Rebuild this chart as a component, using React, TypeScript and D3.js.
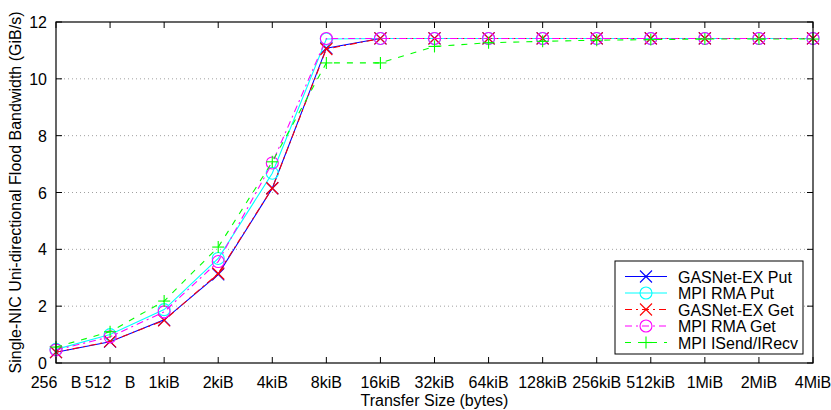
import React from 'react';
import * as d3 from 'd3';

const sizes = ['256   B', '512   B', '1kiB', '2kiB', '4kiB', '8kiB', '16kiB', '32kiB', '64kiB', '128kiB', '256kiB', '512kiB', '1MiB', '2MiB', '4MiB'];
const gasnetPut = [0.38, 0.75, 1.52, 3.12, 6.15, 11.08, 11.42, 11.42, 11.42, 11.42, 11.42, 11.42, 11.42, 11.42, 11.42];
const mpiRmaPut = [0.48, 1.0, 1.88, 3.68, 6.68, 11.4, 11.42, 11.42, 11.42, 11.42, 11.42, 11.42, 11.42, 11.42, 11.42];
const gasnetGet = [0.38, 0.76, 1.5, 3.15, 6.15, 11.05, 11.42, 11.42, 11.42, 11.42, 11.42, 11.42, 11.42, 11.42, 11.42];
const mpiRmaGet = [0.46, 0.92, 1.8, 3.57, 7.04, 11.42, 11.42, 11.42, 11.42, 11.42, 11.42, 11.42, 11.42, 11.42, 11.42];
const mpiIsend = [0.56, 1.1, 2.18, 4.08, 7.08, 10.56, 10.56, 11.14, 11.27, 11.32, 11.36, 11.38, 11.4, 11.4, 11.4];
const yTicks = [0, 2, 4, 6, 8, 10, 12];

const series = [
  { name: 'GASNet-EX Put', values: gasnetPut, color: '#0000ff', dash: '', marker: 'x' },
  { name: 'MPI RMA Put', values: mpiRmaPut, color: '#00ffff', dash: '', marker: 'o' },
  { name: 'GASNet-EX Get', values: gasnetGet, color: '#ff0000', dash: '7,4,2,4', marker: 'x' },
  { name: 'MPI RMA Get', values: mpiRmaGet, color: '#ff00ff', dash: '7,4,2,4', marker: 'o' },
  { name: 'MPI ISend/IRecv', values: mpiIsend, color: '#00ff00', dash: '6,7', marker: '+' },
];

const W = 831, H = 410;
const left = 56, right = 813, top = 22, bottom = 363;
const font = 'Liberation Sans, Arial, Helvetica, sans-serif';
const fs = 16;

function Marker({ type, x, y, color }: { type: string; x: number; y: number; color: string }) {
  const s = 6;
  if (type === 'o') return <circle cx={x} cy={y} r={6} fill="none" stroke={color} strokeWidth={1.1} />;
  if (type === '+') return (
    <g stroke={color} strokeWidth={1.1}>
      <line x1={x - s} y1={y} x2={x + s} y2={y} />
      <line x1={x} y1={y - s} x2={x} y2={y + s} />
    </g>
  );
  return (
    <g stroke={color} strokeWidth={1.1}>
      <line x1={x - s} y1={y - s} x2={x + s} y2={y + s} />
      <line x1={x - s} y1={y + s} x2={x + s} y2={y - s} />
    </g>
  );
}

export default function App() {
  const x = d3.scalePoint<string>().domain(sizes).range([left, right]);
  const y = d3.scaleLinear().domain([0, 12]).range([bottom, top]);
  const line = d3.line<number>().x((d, i) => x(sizes[i]) as number).y(d => y(d));

  const legX = 615, legY = 261, legW = 188, legH = 93;

  return (
    <svg width={W} height={H} style={{ position: 'absolute', left: 0, top: 0 }} fontFamily={font}>
      <rect width={W} height={H} fill="#fff" />
      {yTicks.filter(t => t > 0 && t < 12).map(t => (
        <line key={'g' + t} x1={left} x2={right} y1={y(t)} y2={y(t)} stroke="#a0a0a0" strokeWidth={1} strokeDasharray="1,3" />
      ))}
      {yTicks.map(t => (
        <g key={'y' + t}>
          <line x1={left} x2={left + 6} y1={y(t)} y2={y(t)} stroke="#000" />
          <line x1={right} x2={right - 6} y1={y(t)} y2={y(t)} stroke="#000" />
          <text x={left - 9} y={y(t) + 6} textAnchor="end" fontSize={fs}>{t}</text>
        </g>
      ))}
      {sizes.map(s => (
        <g key={'x' + s}>
          <line x1={x(s)} x2={x(s)} y1={bottom} y2={bottom - 6} stroke="#000" />
          <line x1={x(s)} x2={x(s)} y1={top} y2={top + 6} stroke="#000" />
          <text x={x(s)} y={bottom + 25} textAnchor="middle" fontSize={fs} style={{ whiteSpace: 'pre' }}>{s}</text>
        </g>
      ))}
      {series.map(se => (
        <g key={se.name}>
          <path d={line(se.values) || ''} fill="none" stroke={se.color} strokeWidth={1.1} strokeDasharray={se.dash} />
          {se.values.map((v, i) => (
            <Marker key={i} type={se.marker} x={x(sizes[i]) as number} y={y(v)} color={se.color} />
          ))}
        </g>
      ))}
      <rect x={legX} y={legY} width={legW} height={legH} fill="#fff" stroke="#000" strokeWidth={1} />
      {series.map((se, i) => {
        const ly = 276.5 + i * 16.5;
        return (
          <g key={'l' + se.name}>
            <line x1={625} x2={667} y1={ly} y2={ly} stroke={se.color} strokeWidth={1.1} strokeDasharray={se.dash} />
            <Marker type={se.marker} x={646} y={ly} color={se.color} />
            <text x={678} y={ly + 6} fontSize={fs}>{se.name}</text>
          </g>
        );
      })}
      <rect x={left} y={top} width={right - left} height={bottom - top} fill="none" stroke="#000" strokeWidth={1.2} />
      <text x={(left + right) / 2} y={406} textAnchor="middle" fontSize={fs}>Transfer Size (bytes)</text>
      <text transform={`translate(21,${(top + bottom) / 2}) rotate(-90)`} textAnchor="middle" fontSize={fs}>Single-NIC Uni-directional Flood Bandwidth (GiB/s)</text>
    </svg>
  );
}
